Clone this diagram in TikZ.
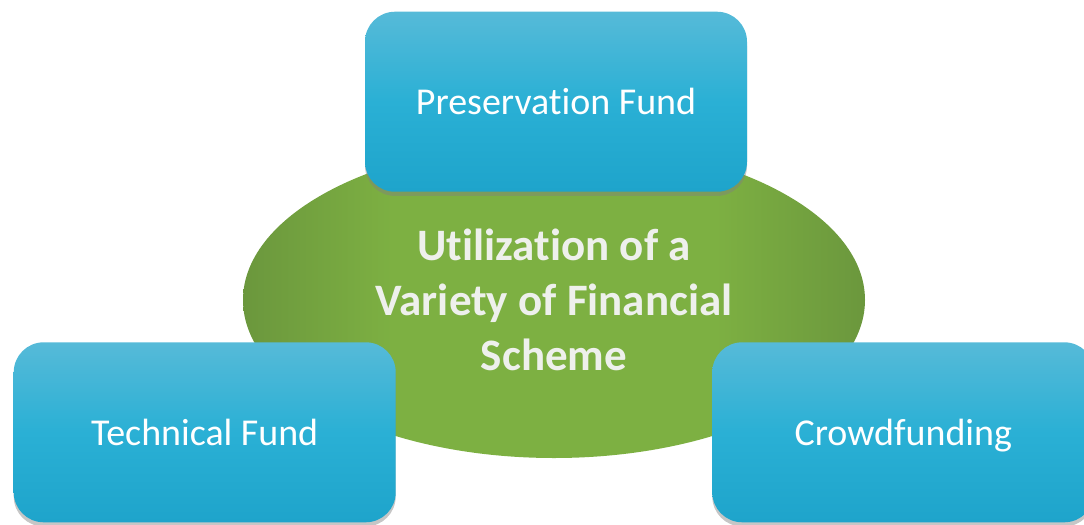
\documentclass[tikz,border=0pt]{standalone}
\usepackage{fontspec}
\setmainfont{Carlito}[RawFeature={-liga;-clig;-calt;-dlig}]
\usepackage{tikz}
\usetikzlibrary{positioning, shapes, shadows}
\definecolor{skyTop}{RGB}{86,186,216}
\definecolor{skyMid}{RGB}{42,176,213}
\definecolor{skyBottom}{RGB}{30,164,203}
\definecolor{leafCore}{RGB}{125,176,66}
\definecolor{leafRim}{RGB}{107,151,61}
\definecolor{schemeText}{RGB}{238,240,236}
\pgfdeclarehorizontalshading{leafGlow}{100bp}{color(0bp)=(leafRim); color(25bp)=(leafRim); color(37bp)=(leafCore); color(63bp)=(leafCore); color(75bp)=(leafRim); color(100bp)=(leafRim)}

\begin{document}
\begin{tikzpicture}[
			fundStyle/.style={draw=none, rounded corners=0.75cm, minimum width=9.55cm, minimum height=4.5cm, align=center, text=white, text height=0.64cm, text depth=0pt, font=\fontsize{27}{33}\selectfont, top color=skyTop, bottom color=skyBottom, middle color=skyMid, drop shadow={opacity=0.45, shadow xshift=0pt, shadow yshift=-3pt}},
			schemeStyle/.style={ellipse, inner sep=0pt, minimum width=15.55cm, minimum height=7.9cm, align=center, shading=leafGlow, text=schemeText, font=\bfseries\fontsize{32}{39}\selectfont},]
			
			\path[use as bounding box, clip] (0,0) rectangle (27.1,-13.1);
			
			\node[schemeStyle] (scheme) at (13.85,-7.5) {Utilization of a\\Variety of Financial\\Scheme};
			
			\begin{scope}[every node/.style={fundStyle}]
				\node[above=2.7cm of scheme.center, xshift=0.05cm] (preservation) {Preservation Fund};
				\node[below left=1.05cm and 3.95cm of scheme.center] (technical) {Technical Fund};
				\node[below right=1.05cm and 3.95cm of scheme.center] (crowd) {Crowdfunding};
			\end{scope}
		\end{tikzpicture}
\end{document}
